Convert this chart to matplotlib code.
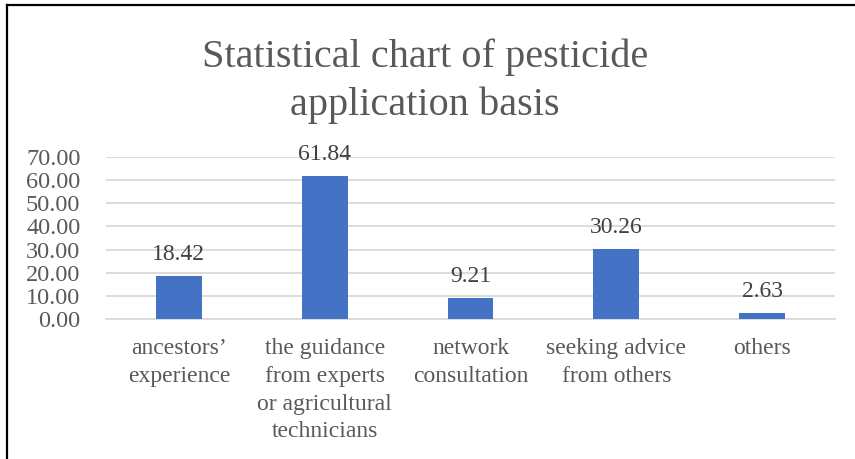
import matplotlib
matplotlib.use("Agg")
import matplotlib.pyplot as plt
from matplotlib.lines import Line2D

plt.rcParams["font.family"] = ["Liberation Serif", "DejaVu Serif"]

categories = [
    "ancestors\u2019\nexperience",
    "the guidance\nfrom experts\nor agricultural\ntechnicians",
    "network\nconsultation",
    "seeking advice\nfrom others",
    "others",
]
values = [18.42, 61.84, 9.21, 30.26, 2.63]
y_ticks = [0, 10, 20, 30, 40, 50, 60, 70]
title = "Statistical chart of pesticide\napplication basis"

W, H = 855, 459
fig = plt.figure(figsize=(W / 100, H / 100), dpi=100)
fig.patch.set_facecolor("white")

ax = fig.add_axes([106 / W, 1 - 319 / H, 729 / W, 162 / H])
x = list(range(len(categories)))
ax.bar(x, values, width=0.315, color="#4472C4", zorder=3)

ax.set_xlim(-0.5, len(categories) - 0.5)
ax.set_ylim(0, 70)
ax.set_yticks(y_ticks)
ax.set_yticklabels([f"{v:.2f}" for v in y_ticks])
ax.set_xticks(x)
ax.set_xticklabels(categories, linespacing=1.41)

ax.yaxis.grid(True, color="#D9D9D9", linewidth=1.3, zorder=0)
ax.set_axisbelow(True)
for side in ("top", "right", "left"):
    ax.spines[side].set_visible(False)
ax.spines["bottom"].set_color("#D9D9D9")
ax.spines["bottom"].set_linewidth(1.3)

ax.tick_params(axis="y", length=0, pad=18.5, labelsize=17.5, labelcolor="#595959")
ax.tick_params(axis="x", length=0, pad=14, labelsize=17, labelcolor="#595959")

for xi, v in zip(x, values):
    ax.annotate(f"{v:.2f}", xy=(xi, v), xytext=(0, 11.5), textcoords="offset points",
                ha="center", va="baseline", fontsize=17, color="#404040")

fig.text(425 / W, 1 - 81.5 / H, title, ha="center", va="center", fontsize=29,
         color="#595959", linespacing=1.36)

# frame lines along the left and top edges
fig.add_artist(Line2D([6.5 / W, 6.5 / W], [0, 1 - 5 / H], transform=fig.transFigure,
                      color="black", linewidth=1.6))
fig.add_artist(Line2D([6.5 / W, 1], [1 - 5 / H, 1 - 5 / H], transform=fig.transFigure,
                      color="black", linewidth=1.6))

fig.savefig("out.png", dpi=100, facecolor="white")
